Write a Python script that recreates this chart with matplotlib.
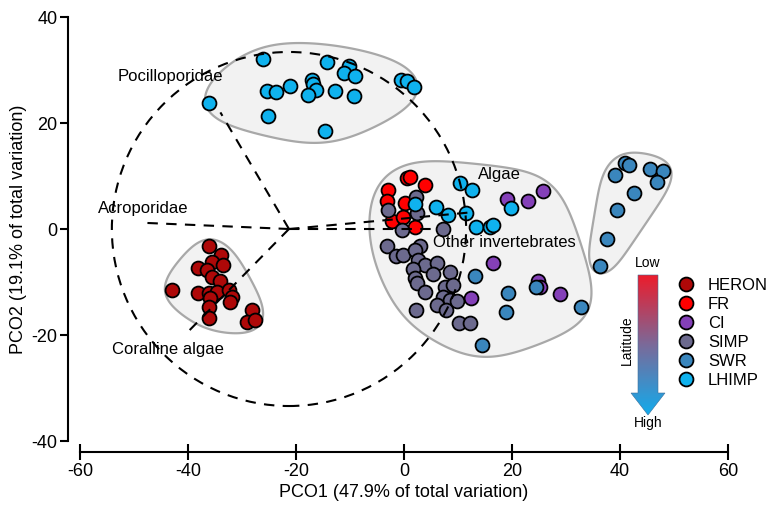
import numpy as np
import matplotlib
matplotlib.use('Agg')
import matplotlib.pyplot as plt
from matplotlib.patches import Ellipse, Polygon
from matplotlib.lines import Line2D

plt.rcParams['font.family'] = ['Liberation Sans', 'DejaVu Sans']
plt.rcParams['axes.unicode_minus'] = False

# PCO scores per site
heron_x = [-36.2, -33.8, -35.6, -33.5, -38.1, -36.5, -35.6, -34.1, -43.0, -38.1, -36.2,
           -34.7, -32.5, -31.9, -35.9, -32.2, -36.2, -36.2, -28.2, -29.1, -27.6]
heron_y = [-3.3, -4.9, -6.2, -6.8, -7.4, -7.7, -9.0, -9.9, -11.6, -12.1, -12.1,
           -11.8, -11.5, -12.8, -13.1, -13.7, -14.7, -16.7, -15.3, -17.5, -17.2]
fr_x = [0.5, 1.1, 3.9, -2.9, -3.1, 0.2, -2.3, -0.1, 2.0]
fr_y = [9.6, 9.8, 8.3, 7.4, 5.2, 5.0, 1.6, 2.3, 0.4]
ci_x = [19.0, 22.9, 25.7, 16.5, 24.8, 25.2, 28.8, 12.4]
ci_y = [5.6, 5.2, 7.2, -6.4, -9.8, -10.9, -12.3, -13.1]
simp_x = [2.2, 2.4, -2.9, -0.4, 7.3, -3.2, 3.0, -1.4, -0.1, 2.0, 2.6, 3.9, 6.1, 1.7, 5.4,
          8.5, 2.0, 2.4, 3.9, 7.6, 9.1, 7.3, 8.5, 6.1, 7.8, 9.8, 2.2, 10.1, 12.2]
simp_y = [6.1, 3.0, 3.6, -0.2, 0.0, -3.2, -3.2, -5.1, -4.9, -4.0, -5.8, -6.8, -6.5, -7.6, -8.4,
          -8.2, -9.3, -10.2, -11.8, -11.0, -10.6, -12.8, -13.4, -14.3, -15.3, -13.5, -15.2, -17.7, -17.7]
swr_main_x = [13.1, 19.2, 24.4, 18.8, 32.7, 14.4]
swr_main_y = [-8.9, -12.0, -11.0, -15.7, -14.8, -21.9]
swr_right_x = [40.9, 41.7, 45.6, 48.0, 46.8, 39.1, 42.5, 39.4, 37.5, 36.3]
swr_right_y = [12.4, 12.1, 11.3, 11.0, 8.8, 10.2, 6.7, 3.6, -1.9, -7.0]
lhimp_top_x = [-26.2, -36.2, -25.4, -23.7, -21.1, -17.1, -16.8, -16.3, -17.7, -14.3,
               -12.8, -10.1, -11.2, -9.1, -9.3, -25.1, -14.6, -0.6, 0.5, 1.9]
lhimp_top_y = [32.0, 23.8, 26.1, 25.9, 27.0, 28.2, 27.4, 26.2, 25.3, 31.6,
               26.1, 30.8, 29.4, 28.9, 25.1, 21.3, 18.5, 28.1, 28.0, 26.8]
lhimp_main_x = [10.4, 12.5, 2.0, 5.9, 8.1, 11.5, 13.3, 15.9, 16.5, 19.8]
lhimp_main_y = [8.6, 7.4, 4.7, 4.2, 2.6, 3.0, 0.3, 0.4, 0.8, 3.9]

sites = ['HERON', 'FR', 'CI', 'SIMP', 'SWR', 'LHIMP']
site_colors = ['#AE0808', '#FF0000', '#8440B8', '#6C6A8E', '#3A86BD', '#0FB2EE']

# vector overlay
vec_origin = (-21.3, 0.0)
vec_names = ['Pocilloporidae', 'Acroporidae', 'Coralline algae', 'Algae', 'Other invertebrates']
vec_end_x = [-34.0, -49.0, -40.2, 12.0, 5.0]
vec_end_y = [22.0, 1.2, -19.6, 3.1, 0.0]
lab_x = [-53.0, -56.7, -54.1, 13.7, 5.4]
lab_y = [28.7, 3.8, -22.8, 10.2, -2.6]
circle_r = (32.8, 33.4)

W, H = 774, 513
fig = plt.figure(figsize=(W / 100, H / 100), dpi=100)
ax = fig.add_axes([80 / W, 72 / H, 648 / W, 424 / H])
ax.set_xlim(-60, 60)
ax.set_ylim(-40, 40)
sx, sy = 648 / 120, 424 / 80  # pixels per unit


def convex_hull(pts):
    pts = sorted(set(pts))

    def cross(o, a, b):
        return (a[0] - o[0]) * (b[1] - o[1]) - (a[1] - o[1]) * (b[0] - o[0])
    lower, upper = [], []
    for p in pts:
        while len(lower) >= 2 and cross(lower[-2], lower[-1], p) <= 0:
            lower.pop()
        lower.append(p)
    for p in reversed(pts):
        while len(upper) >= 2 and cross(upper[-2], upper[-1], p) <= 0:
            upper.pop()
        upper.append(p)
    return lower[:-1] + upper[:-1]


def blob(xs, ys, pad, sigma, n=400):
    # padded hull in pixel space, then smoothed along its length
    t = np.linspace(0, 2 * np.pi, 60, endpoint=False)
    bx = (np.asarray(xs)[:, None] * sx + pad * np.cos(t)).ravel()
    by = (np.asarray(ys)[:, None] * sy + pad * np.sin(t)).ravel()
    h = convex_hull(list(zip(bx.round(3), by.round(3))))
    p = np.array(h + [h[0]])
    s = np.concatenate([[0], np.cumsum(np.hypot(*np.diff(p, axis=0).T))])
    u = np.linspace(0, s[-1], n, endpoint=False)
    x = np.interp(u, s, p[:, 0])
    y = np.interp(u, s, p[:, 1])
    k = np.arange(-n // 2, n // 2)
    w = np.exp(-0.5 * (k * s[-1] / n / sigma) ** 2)
    w /= w.sum()
    xs_ = np.array([np.sum(x[(k + i) % n] * w) for i in range(n)])
    ys_ = np.array([np.sum(y[(k + i) % n] * w) for i in range(n)])
    return np.column_stack([xs_ / sx, ys_ / sy])


groups = [
    (lhimp_top_x, lhimp_top_y, 19, 32),
    (heron_x, heron_y, 14, 18),
    (fr_x + ci_x + simp_x + swr_main_x + lhimp_main_x,
     fr_y + ci_y + simp_y + swr_main_y + lhimp_main_y, 20, 30),
    (swr_right_x, swr_right_y, 14, 16),
]
for gx, gy, pad, sig in groups:
    ax.add_patch(Polygon(blob(gx, gy, pad, sig), closed=True, facecolor='#F2F2F2',
                         edgecolor='#A8A8A8', lw=1.6, zorder=1))

site_x = [heron_x, fr_x, ci_x, simp_x, swr_main_x + swr_right_x, lhimp_top_x + lhimp_main_x]
site_y = [heron_y, fr_y, ci_y, simp_y, swr_main_y + swr_right_y, lhimp_top_y + lhimp_main_y]
handles = []
for name, c, xs, ys in zip(sites, site_colors, site_x, site_y):
    ax.scatter(xs, ys, s=100, c=c, edgecolors='black', linewidths=1.3, zorder=3)
    handles.append(Line2D([], [], marker='o', ls='none', markersize=10, markerfacecolor=c,
                          markeredgecolor='black', markeredgewidth=1.3, label=name))

dash = (0, (5, 4))
ax.add_patch(Ellipse(vec_origin, 2 * circle_r[0], 2 * circle_r[1], fill=False,
                     ls=dash, lw=1.5, color='black', zorder=4))
for ex, ey in zip(vec_end_x, vec_end_y):
    ax.plot([vec_origin[0], ex], [vec_origin[1], ey], ls=dash, lw=1.5, color='black', zorder=4)
for name, tx, ty in zip(vec_names, lab_x, lab_y):
    ax.text(tx, ty, name, fontsize=12, ha='left', va='center', zorder=5)

for s in ['top', 'right']:
    ax.spines[s].set_visible(False)
ax.spines['left'].set_position(('outward', 12 * 0.72))
ax.spines['bottom'].set_position(('outward', 11 * 0.72))
for s in ['left', 'bottom']:
    ax.spines[s].set_linewidth(1.5)
ax.set_xticks(np.arange(-60, 61, 20))
ax.set_yticks(np.arange(-40, 41, 20))
ax.tick_params(axis='x', direction='inout', length=12, width=1.5, labelsize=13, pad=2)
ax.tick_params(axis='y', direction='out', length=6, width=1.5, labelsize=13, pad=1.5)
ax.set_xlabel('PCO1 (47.9% of total variation)', fontsize=13)
ax.set_ylabel('PCO2 (19.1% of total variation)', fontsize=13)
ax.xaxis.set_label_coords(0.5, -0.101)
ax.yaxis.set_label_coords(-0.082, 0.5)

leg = fig.legend(handles=handles, loc='upper left', bbox_to_anchor=(678 / W, 1 - 278 / H),
                 frameon=False, fontsize=12, handlelength=1.0, handletextpad=0.8,
                 labelspacing=0.24, borderpad=0, borderaxespad=0)

# latitude gradient arrow
ax2 = fig.add_axes([620 / W, 1 - 420 / H, 56 / W, 150 / H])
ax2.set_xlim(620, 676)
ax2.set_ylim(420, 270)
ax2.axis('off')
grad = np.linspace(0, 1, 256)[:, None]
cmap = matplotlib.colors.LinearSegmentedColormap.from_list('lat', ['#EC1C2C', '#7A6A9A', '#12ABEC'])
im = ax2.imshow(grad, extent=(620, 676, 415, 275), cmap=cmap, aspect='auto')
arrow = Polygon([(638, 275), (658, 275), (658, 393), (665, 393), (648, 415),
                 (631, 393), (638, 393)], closed=True, transform=ax2.transData)
im.set_clip_path(arrow)
ax2.add_patch(Polygon(arrow.get_xy(), closed=True, fill=False, ec='#3a6f9a', lw=0.4))

fig.text(648 / W, 1 - 263 / H, 'Low', fontsize=10, ha='center', va='center')
fig.text(648 / W, 1 - 423 / H, 'High', fontsize=10, ha='center', va='center')
fig.text(627 / W, 1 - 340 / H, 'Latitude', fontsize=10, ha='center', va='center', rotation=90)

fig.savefig('out.png', dpi=100)
